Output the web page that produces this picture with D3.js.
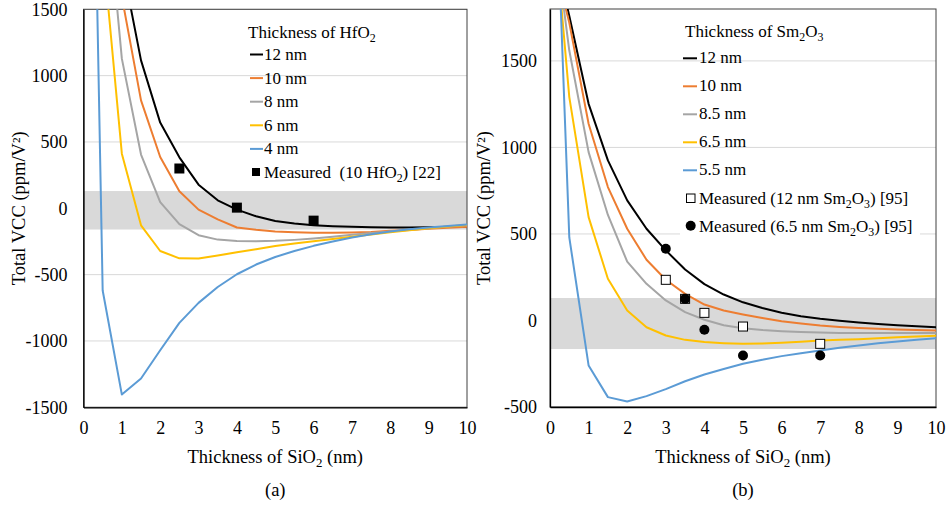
<!DOCTYPE html>
<html>
<head>
<meta charset="utf-8">
<script src="https://cdn.jsdelivr.net/npm/d3@7"></script>
<style>
body{margin:0;background:#fff}
svg{display:block}
svg text{font-family:'Liberation Serif','Times New Roman',Tinos,'DejaVu Serif',serif}
</style>
</head>
<body>
<svg id="chart"></svg>
<script>
const width=948
const height=506
const serif="'Liberation Serif','Times New Roman',Tinos,'DejaVu Serif',serif"

// ---- panel (a): HfO2 ----
const xA=[0.3,0.5,1,1.5,2,2.5,3,3.5,4,4.5,5,5.5,6,6.5,7,7.5,8,8.5,9,9.5,10]
const hf12=[4200,3600,1855,1115,646,384,178,60,-10,-60,-96,-115,-128,-135,-140,-143,-145,-145,-143,-141,-138]
const hf10=[4000,3200,1594,814,387,128,-10,-83,-145,-162,-175,-180,-185,-185,-182,-178,-170,-163,-155,-147,-140]
const hf8=[3800,2680,1128,405,47,-120,-203,-236,-246,-248,-245,-238,-228,-215,-200,-187,-174,-162,-150,-138,-128]
const hf6=[2600,1970,412,-128,-322,-377,-379,-356,-332,-308,-284,-266,-248,-231,-215,-197,-180,-165,-150,-137,-125]
const hf4=[2400,-620,-1404,-1283,-1070,-864,-713,-593,-497,-424,-367,-322,-283,-250,-220,-195,-175,-158,-145,-133,-123]
const measA_x=[2.5,4,6]
const measA_y=[300,5,-93]
const bandA=[-160,130]
const yTicksA=[-1500,-1000,-500,0,500,1000,1500]

// ---- panel (b): Sm2O3 ----
const xB=[0.25,0.5,1,1.5,2,2.5,3,3.5,4,4.5,5,5.5,6,6.5,7,7.5,8,8.5,9,9.5,10]
const sm12=[2000,1760,1252,925,694,530,405,295,210,150,105,72,45,25,10,-2,-12,-20,-28,-34,-39]
const sm10=[1942,1720,1137,771,530,351,235,154,92,58,35,14,-5,-18,-29,-37,-43,-48,-52,-55,-58]
const sm85=[1990,1560,973,610,340,212,116,48,4,-28,-45,-55,-62,-67,-70,-72,-73,-73,-73,-72,-72]
const sm65=[1927,1291,597,241,58,-39,-87,-112,-125,-131,-135,-133,-129,-123,-116,-112,-108,-102,-97,-92,-88]
const sm55=[1980,480,-260,-443,-468,-437,-397,-351,-312,-280,-250,-227,-206,-189,-173,-158,-145,-132,-121,-111,-102]
const measB12_x=[3,3.5,4,5,7]
const measB12_y=[235,125,44,-35,-135]
const measB65_x=[3,3.5,4,5,7]
const measB65_y=[414,125,-54,-202,-202]
const bandB=[-165,130]
const yTicksB=[-500,0,500,1000,1500]

const xTicks=[0,1,2,3,4,5,6,7,8,9,10]
const colors=['#000000','#ED7D31','#A5A5A5','#FFC000','#5B9BD5']

const svg=d3.select('#chart').attr('width',width).attr('height',height)
    .style('font-family',serif)

// text with "_n" subscripts
function richText(sel,str){
    const parts=str.split(/(_\d)/).filter(p=>p!=='')
    let shifted=false
    parts.forEach(p=>{
        if(p.startsWith('_')){
            sel.append('tspan').attr('dy',4).attr('font-size','0.7em').text(p.slice(1))
            shifted=true
        }else{
            sel.append('tspan').attr('dy',shifted?-4:0).text(p)
            shifted=false
        }
    })
    return sel
}

function drawPanel(cfg){
    const g=svg.append('g')
    const X=d3.scaleLinear().domain([0,10]).range([cfg.x0,cfg.x1])
    const Y=d3.scaleLinear().domain(cfg.yDomain).range([cfg.y1,cfg.y0])

    const clipId='clip'+cfg.id
    svg.append('clipPath').attr('id',clipId).append('rect')
        .attr('x',cfg.x0).attr('y',cfg.y0)
        .attr('width',cfg.x1-cfg.x0).attr('height',cfg.y1-cfg.y0)

    // grid
    g.append('g').selectAll('line').data(cfg.yTicks).enter().append('line')
        .attr('x1',cfg.x0).attr('x2',cfg.x1)
        .attr('y1',d=>Y(d)).attr('y2',d=>Y(d))
        .attr('stroke','#d9d9d9').attr('stroke-width',1)

    // tolerance band
    g.append('rect')
        .attr('x',cfg.x0).attr('width',cfg.x1-cfg.x0)
        .attr('y',Y(cfg.band[1])).attr('height',Y(cfg.band[0])-Y(cfg.band[1]))
        .attr('fill','#d9d9d9')

    // border
    g.append('rect')
        .attr('x',cfg.x0).attr('y',cfg.y0)
        .attr('width',cfg.x1-cfg.x0).attr('height',cfg.y1-cfg.y0)
        .attr('fill','none').attr('stroke','#404040').attr('stroke-width',1)

    // lines
    const plot=g.append('g').attr('clip-path',`url(#${clipId})`)
    const line=d3.line().x(d=>X(d[0])).y(d=>Y(d[1]))
    cfg.series.forEach((s,i)=>{
        plot.append('path')
            .attr('d',line(cfg.xs.map((x,j)=>[x,s[j]])))
            .attr('fill','none')
            .attr('stroke',colors[i])
            .attr('stroke-width',2)
            .attr('stroke-linejoin','round')
    })

    // axes
    const xAxis=d3.axisBottom(X).tickValues(xTicks).tickSize(0).tickPadding(14).tickFormat(d=>String(d))
    const yAxis=d3.axisLeft(Y).tickValues(cfg.yTicks).tickSize(0).tickPadding(cfg.yPad).tickFormat(d=>String(d))
    const xg=g.append('g').attr('transform',`translate(0,${cfg.y1})`).call(xAxis)
    const yg=g.append('g').attr('transform',`translate(${cfg.x0},0)`).call(yAxis)
    ;[xg,yg].forEach(a=>{
        a.attr('font-family',null).attr('font-size',18)
        a.select('.domain').attr('stroke','#000').attr('stroke-width',1.3)
        a.selectAll('text').attr('fill','#000').style('font-family',serif)
    })

    // axis titles
    richText(g.append('text')
        .attr('x',(cfg.x0+cfg.x1)/2).attr('y',cfg.y1+56)
        .attr('text-anchor','middle').attr('font-size',18.5),'Thickness of SiO_2 (nm)')
    g.append('text')
        .attr('transform',`translate(${cfg.yTitleX},${(cfg.y0+cfg.y1)/2}) rotate(-90)`)
        .attr('text-anchor','middle').attr('font-size',18.5)
        .text('Total VCC (ppm/V²)')
    g.append('text')
        .attr('x',(cfg.x0+cfg.x1)/2).attr('y',cfg.y1+89)
        .attr('text-anchor','middle').attr('font-size',18.5)
        .text(cfg.label)

    return {g,X,Y,plot}
}

// ---------- panel (a) ----------
const pa=drawPanel({
    id:'a',x0:83.5,x1:467,y0:9.3,y1:407.3,yDomain:[-1500,1500],
    yTicks:yTicksA,yPad:16,yTitleX:25,band:bandA,
    xs:xA,series:[hf12,hf10,hf8,hf6,hf4],label:'(a)'
})
pa.plot.append('g').selectAll('rect').data(measA_x).enter().append('rect')
    .attr('x',(d)=>pa.X(d)-5).attr('y',(d,i)=>pa.Y(measA_y[i])-5)
    .attr('width',10).attr('height',10).attr('fill','#000')

// legend (a)
const legA=svg.append('g')
richText(legA.append('text').attr('x',248).attr('y',38).attr('font-size',17),'Thickness of HfO_2')
const namesA=['12 nm','10 nm','8 nm','6 nm','4 nm']
namesA.forEach((n,i)=>{
    const yy=60+i*23.6
    legA.append('line').attr('x1',250).attr('x2',263).attr('y1',yy-5.5).attr('y2',yy-5.5)
        .attr('stroke',colors[i]).attr('stroke-width',2)
    legA.append('text').attr('x',264).attr('y',yy).attr('font-size',17).text(n)
})
legA.append('rect').attr('x',252).attr('y',168).attr('width',8).attr('height',8).attr('fill','#000')
richText(legA.append('text').attr('x',264).attr('y',178).attr('font-size',17)
    .style('white-space','pre'),'Measured  (10 HfO_2) [22]')

// ---------- panel (b) ----------
const pb=drawPanel({
    id:'b',x0:550,x1:936,y0:9,y1:407,yDomain:[-500,1800],
    yTicks:yTicksB,yPad:13,yTitleX:490,band:bandB,
    xs:xB,series:[sm12,sm10,sm85,sm65,sm55],label:'(b)'
})
pb.plot.append('g').selectAll('rect').data(measB12_x).enter().append('rect')
    .attr('x',d=>pb.X(d)-4.5).attr('y',(d,i)=>pb.Y(measB12_y[i])-4.5)
    .attr('width',9).attr('height',9).attr('fill','#fff').attr('stroke','#000').attr('stroke-width',1)
pb.plot.append('g').selectAll('circle').data(measB65_x).enter().append('circle')
    .attr('cx',d=>pb.X(d)).attr('cy',(d,i)=>pb.Y(measB65_y[i]))
    .attr('r',5).attr('fill','#000')

// legend (b)
const legB=svg.append('g')
richText(legB.append('text').attr('x',685).attr('y',37).attr('font-size',17),'Thickness of Sm_2O_3')
const namesB=['12 nm','10 nm','8.5 nm','6.5 nm','5.5 nm']
namesB.forEach((n,i)=>{
    const yy=58.3+i*28
    legB.append('line').attr('x1',683).attr('x2',697).attr('y1',yy).attr('y2',yy)
        .attr('stroke',colors[i]).attr('stroke-width',2)
    legB.append('text').attr('x',699).attr('y',yy+5).attr('font-size',17).text(n)
})
legB.append('rect').attr('x',686.5).attr('y',194).attr('width',8.5).attr('height',8.5)
    .attr('fill','#fff').attr('stroke','#000').attr('stroke-width',1)
richText(legB.append('text').attr('x',699).attr('y',204).attr('font-size',17),'Measured (12 nm Sm_2O_3) [95]')
legB.append('rect').attr('x',680).attr('y',213).attr('width',240).attr('height',28).attr('fill','#fff')
legB.append('circle').attr('cx',690.7).attr('cy',225.7).attr('r',5).attr('fill','#000')
richText(legB.append('text').attr('x',699).attr('y',232).attr('font-size',17),'Measured (6.5 nm Sm_2O_3) [95]')
</script>
</body>
</html>
